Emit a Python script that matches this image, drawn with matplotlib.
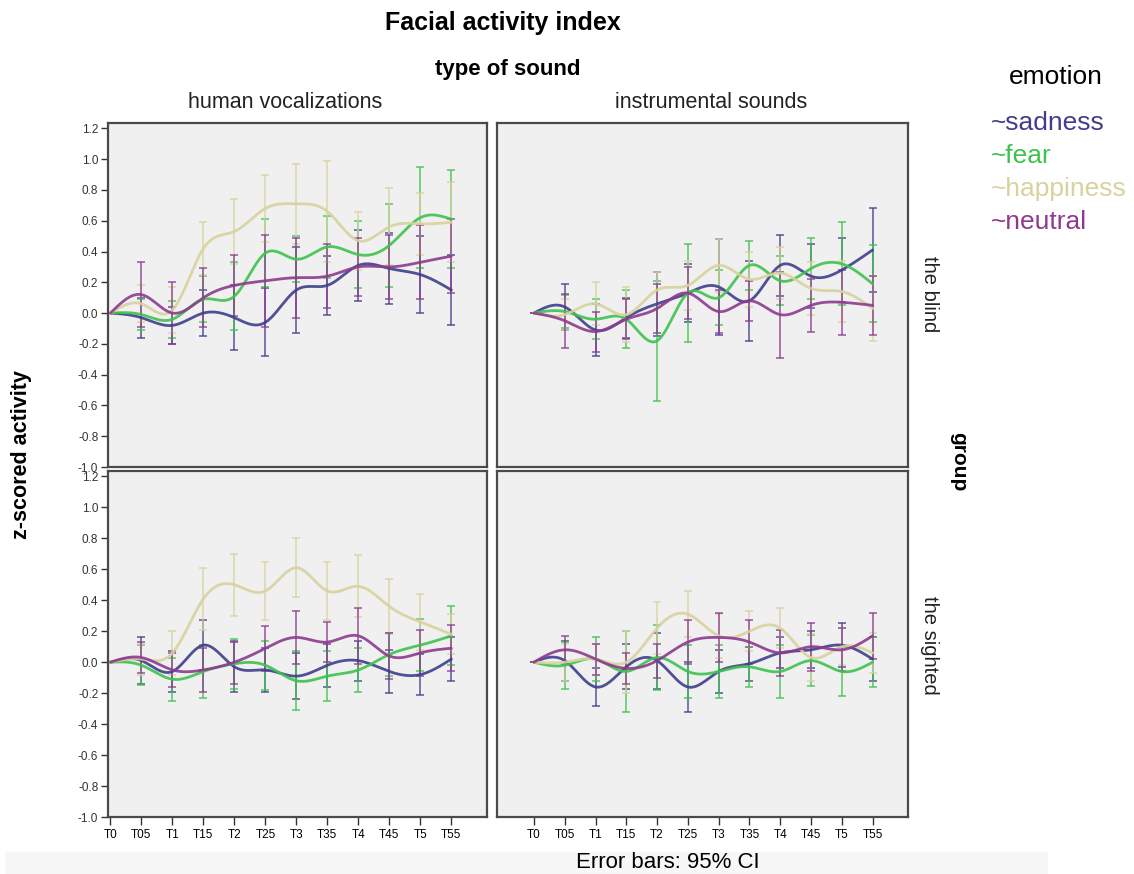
import matplotlib
matplotlib.use("Agg")
import matplotlib.pyplot as plt
import numpy as np

# ---- data ----
time_labels = ["T0", "T05", "T1", "T15", "T2", "T25", "T3", "T35", "T4", "T45", "T5", "T55"]
emotions = ["sadness", "fear", "happiness", "neutral"]
sound_types = ["human vocalizations", "instrumental sounds"]
groups = ["the blind", "the sighted"]

blind_vocal_mean = {
    "sadness":   [0, -0.03, -0.08, 0.00, -0.03, -0.06, 0.15, 0.18, 0.31, 0.29, 0.25, 0.15],
    "fear":      [0, -0.01, -0.04, 0.09, 0.11, 0.39, 0.35, 0.43, 0.38, 0.44, 0.62, 0.61],
    "happiness": [0, 0.06, 0.02, 0.42, 0.53, 0.68, 0.71, 0.66, 0.47, 0.56, 0.58, 0.59],
    "neutral":   [0, 0.12, 0.00, 0.10, 0.18, 0.21, 0.23, 0.24, 0.30, 0.30, 0.33, 0.37],
}
blind_vocal_ci = {
    "sadness":   [0, 0.13, 0.12, 0.15, 0.21, 0.22, 0.28, 0.19, 0.23, 0.23, 0.25, 0.23],
    "fear":      [0, 0.10, 0.12, 0.15, 0.22, 0.22, 0.15, 0.20, 0.22, 0.27, 0.33, 0.32],
    "happiness": [0, 0.12, 0.15, 0.17, 0.21, 0.22, 0.26, 0.33, 0.19, 0.25, 0.20, 0.26],
    "neutral":   [0, 0.21, 0.20, 0.19, 0.20, 0.30, 0.26, 0.21, 0.19, 0.21, 0.24, 0.24],
}
blind_instr_mean = {
    "sadness":   [0, 0.04, -0.11, -0.03, 0.06, 0.13, 0.17, 0.08, 0.31, 0.24, 0.28, 0.41],
    "fear":      [0, 0.01, -0.04, -0.04, -0.18, 0.13, 0.10, 0.31, 0.21, 0.29, 0.32, 0.19],
    "happiness": [0, -0.01, 0.06, -0.01, 0.15, 0.18, 0.31, 0.22, 0.26, 0.16, 0.14, 0.03],
    "neutral":   [0, -0.05, -0.12, -0.04, 0.03, 0.13, 0.01, 0.08, -0.01, 0.05, 0.07, 0.05],
}
blind_instr_ci = {
    "sadness":   [0, 0.15, 0.17, 0.13, 0.21, 0.19, 0.31, 0.26, 0.20, 0.21, 0.21, 0.27],
    "fear":      [0, 0.11, 0.13, 0.19, 0.39, 0.32, 0.18, 0.16, 0.16, 0.20, 0.27, 0.25],
    "happiness": [0, 0.10, 0.14, 0.18, 0.12, 0.16, 0.17, 0.18, 0.17, 0.17, 0.20, 0.21],
    "neutral":   [0, 0.175, 0.13, 0.13, 0.16, 0.17, 0.14, 0.13, 0.28, 0.17, 0.21, 0.19],
}
sighted_vocal_mean = {
    "sadness":   [0, 0.01, -0.06, 0.11, -0.03, -0.05, -0.09, -0.02, 0.01, -0.06, -0.08, 0.02],
    "fear":      [0, -0.02, -0.11, -0.06, -0.01, -0.02, -0.12, -0.09, -0.05, 0.05, 0.11, 0.17],
    "happiness": [0, 0.02, 0.06, 0.41, 0.50, 0.46, 0.61, 0.46, 0.49, 0.36, 0.26, 0.18],
    "neutral":   [0, 0.03, -0.05, -0.05, 0.00, 0.09, 0.16, 0.13, 0.17, 0.04, 0.06, 0.09],
}
sighted_vocal_ci = {
    "sadness":   [0, 0.15, 0.13, 0.16, 0.16, 0.14, 0.15, 0.14, 0.13, 0.14, 0.13, 0.14],
    "fear":      [0, 0.13, 0.14, 0.17, 0.16, 0.16, 0.19, 0.16, 0.14, 0.14, 0.17, 0.19],
    "happiness": [0, 0.10, 0.14, 0.20, 0.20, 0.19, 0.19, 0.19, 0.20, 0.18, 0.18, 0.13],
    "neutral":   [0, 0.10, 0.11, 0.14, 0.14, 0.145, 0.17, 0.13, 0.18, 0.15, 0.15, 0.15],
}
sighted_instr_mean = {
    "sadness":   [0, 0.01, -0.16, -0.03, 0.01, -0.16, -0.06, -0.01, 0.06, 0.08, 0.11, 0.02],
    "fear":      [0, -0.02, 0.02, -0.06, 0.03, -0.06, -0.06, -0.03, -0.06, 0.01, -0.06, 0.00],
    "happiness": [0, 0.00, 0.02, 0.00, 0.22, 0.31, 0.17, 0.20, 0.22, 0.03, 0.10, 0.06],
    "neutral":   [0, 0.08, 0.02, -0.04, 0.01, 0.13, 0.16, 0.13, 0.06, 0.10, 0.08, 0.17],
}
sighted_instr_ci = {
    "sadness":   [0, 0.13, 0.12, 0.145, 0.18, 0.16, 0.14, 0.11, 0.10, 0.12, 0.14, 0.14],
    "fear":      [0, 0.15, 0.14, 0.26, 0.21, 0.17, 0.17, 0.13, 0.17, 0.165, 0.16, 0.16],
    "happiness": [0, 0.12, 0.10, 0.20, 0.17, 0.15, 0.14, 0.13, 0.13, 0.15, 0.12, 0.13],
    "neutral":   [0, 0.09, 0.10, 0.10, 0.11, 0.14, 0.16, 0.14, 0.15, 0.155, 0.14, 0.15],
}
y_ticks = [-1.0, -0.8, -0.6, -0.4, -0.2, 0.0, 0.2, 0.4, 0.6, 0.8, 1.0, 1.2]

COLORS = {
    "sadness":   "#3e3e8c",
    "fear":      "#3ec24e",
    "happiness": "#d8d29e",
    "neutral":   "#8e3a8f",
}

W, H = 1134, 874
plt.rcParams["font.family"] = ["Liberation Sans", "DejaVu Sans"]


def natural_spline(x, y, n=25):
    """Smooth display curve through the points (SPSS-style spline line)."""
    x = np.asarray(x, float)
    y = np.asarray(y, float)
    m = len(x)
    h = np.diff(x)
    A = np.zeros((m, m))
    b = np.zeros(m)
    A[0, 0] = A[-1, -1] = 1.0
    for i in range(1, m - 1):
        A[i, i - 1] = h[i - 1]
        A[i, i] = 2 * (h[i - 1] + h[i])
        A[i, i + 1] = h[i]
        b[i] = 3 * ((y[i + 1] - y[i]) / h[i] - (y[i] - y[i - 1]) / h[i - 1])
    c = np.linalg.solve(A, b)
    xs, ys = [], []
    for i in range(m - 1):
        bi = (y[i + 1] - y[i]) / h[i] - h[i] * (2 * c[i] + c[i + 1]) / 3
        di = (c[i + 1] - c[i]) / (3 * h[i])
        t = np.linspace(0, h[i], n, endpoint=(i == m - 2))
        xs.append(x[i] + t)
        ys.append(y[i] + bi * t + c[i] * t ** 2 + di * t ** 3)
    return np.concatenate(xs), np.concatenate(ys)


def add_panel(fig, box, xlim):
    x0, y0, x1, y1 = box
    ax = fig.add_axes([x0 / W, 1 - y1 / H, (x1 - x0) / W, (y1 - y0) / H])
    ax.set_facecolor("#f0f0f0")
    for sp in ax.spines.values():
        sp.set_color("#4a4a4a")
        sp.set_linewidth(1.6)
    ax.set_xlim(*xlim)
    ax.set_ylim(-1.0, 1.235)
    return ax


def draw(ax, means, cis):
    x = np.arange(len(time_labels))
    for emo in emotions:
        col = COLORS[emo]
        ax.errorbar(x, means[emo], yerr=cis[emo], fmt="none", ecolor=col,
                    elinewidth=1.2, capsize=3.2, capthick=1.2, alpha=0.8, zorder=2)
        sx, sy = natural_spline(x, means[emo])
        ax.plot(sx, sy, color=col, linewidth=2.0, alpha=0.9, zorder=3,
                solid_capstyle="round")


fig = plt.figure(figsize=(W / 100, H / 100), dpi=100)
fig.patch.set_facecolor("white")

panels = [
    ((108, 123, 487, 467), (-0.08, 12.15), blind_vocal_mean, blind_vocal_ci, True, False),
    ((497, 123, 908, 467), (-1.2, 12.15), blind_instr_mean, blind_instr_ci, False, False),
    ((108, 471, 487, 817), (-0.08, 12.15), sighted_vocal_mean, sighted_vocal_ci, True, True),
    ((497, 471, 908, 817), (-1.2, 12.15), sighted_instr_mean, sighted_instr_ci, False, True),
]

for box, xlim, means, cis, left, bottom in panels:
    ax = add_panel(fig, box, xlim)
    draw(ax, means, cis)
    ax.set_xticks(np.arange(len(time_labels)))
    if bottom:
        ax.set_xticklabels(time_labels, fontsize=8.5)
        ax.tick_params(axis="x", length=6, width=1.0, color="#333", pad=3)
    else:
        ax.tick_params(axis="x", length=0, labelbottom=False)
    ax.set_yticks(y_ticks)
    if left:
        ax.set_yticklabels([f"{v:.1f}" for v in y_ticks], fontsize=8.5, color="#333")
        ax.tick_params(axis="y", length=5, width=1.0, color="#333", pad=2)
    else:
        ax.tick_params(axis="y", length=0, labelleft=False)

# titles and strip labels
fig.text(503 / W, 1 - 23 / H, "Facial activity index", ha="center", va="center",
         fontsize=18, fontweight="bold")
fig.text(508 / W, 1 - 69 / H, "type of sound", ha="center", va="center",
         fontsize=16, fontweight="bold")
fig.text(285 / W, 1 - 102 / H, sound_types[0], ha="center", va="center",
         fontsize=15.5, color="#222")
fig.text(711 / W, 1 - 102 / H, sound_types[1], ha="center", va="center",
         fontsize=15.5, color="#222")
fig.text(929 / W, 1 - 294 / H, groups[0], ha="center", va="center",
         fontsize=14.5, rotation=-90, color="#222")
fig.text(929 / W, 1 - 645 / H, groups[1], ha="center", va="center",
         fontsize=14.5, rotation=-90, color="#222")
fig.text(959 / W, 1 - 462 / H, "group", ha="center", va="center",
         fontsize=15, fontweight="bold", rotation=-90)
fig.text(22 / W, 1 - 455 / H, "z-scored activity", ha="center", va="center",
         fontsize=15.5, fontweight="bold", rotation=90)

# legend
fig.text(1056 / W, 1 - 77 / H, "emotion", ha="center", va="center", fontsize=19)
for i, emo in enumerate(emotions):
    fig.text(991 / W, 1 - (123 + 33 * i) / H, "~" + emo, ha="left", va="center",
             fontsize=19, color=COLORS[emo])

# footer
fig.patches.append(plt.Rectangle((5 / W, 0), (1048 - 5) / W, 22 / H,
                                 transform=fig.transFigure, facecolor="#f7f7f7",
                                 edgecolor="none", zorder=0))
fig.text(668 / W, 1 - 862 / H, "Error bars: 95% CI", ha="center", va="center",
         fontsize=16)

fig.savefig("out.png", dpi=100)
